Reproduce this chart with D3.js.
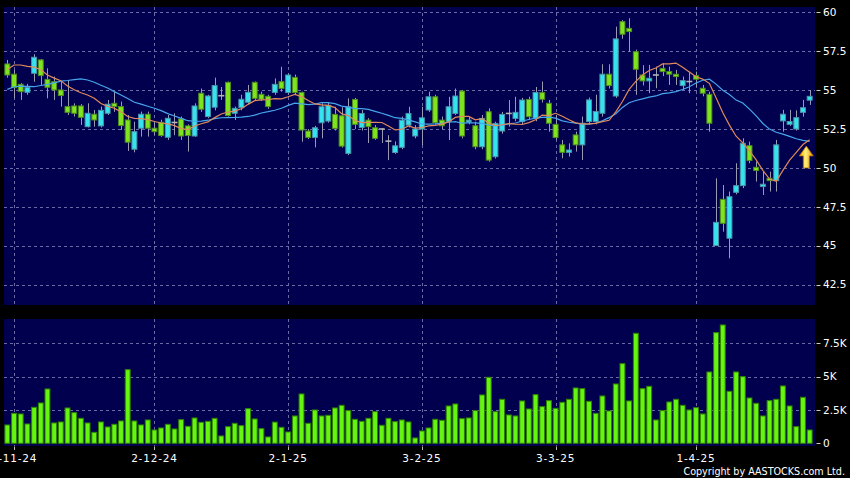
<!DOCTYPE html>
<html><head><meta charset="utf-8">
<script src="https://cdn.jsdelivr.net/npm/d3@7"></script>
<style>html,body{margin:0;padding:0;background:#000;}svg{display:block;}</style>
</head><body>
<svg id="chart" width="850" height="478"></svg>
<script>
// ---------------- DATA ----------------
const dates = [
"31-10-24",
"1-11-24","4-11-24","5-11-24","6-11-24","7-11-24","8-11-24","11-11-24","12-11-24","13-11-24","14-11-24","15-11-24","18-11-24","19-11-24","20-11-24","21-11-24","22-11-24","25-11-24","26-11-24","27-11-24","28-11-24","29-11-24",
"2-12-24","3-12-24","4-12-24","5-12-24","6-12-24","9-12-24","10-12-24","11-12-24","12-12-24","13-12-24","16-12-24","17-12-24","18-12-24","19-12-24","20-12-24","23-12-24","24-12-24","27-12-24","30-12-24","31-12-24",
"2-1-25","3-1-25","6-1-25","7-1-25","8-1-25","9-1-25","10-1-25","13-1-25","14-1-25","15-1-25","16-1-25","17-1-25","20-1-25","21-1-25","22-1-25","23-1-25","24-1-25","27-1-25","28-1-25","29-1-25",
"3-2-25","4-2-25","5-2-25","6-2-25","7-2-25","10-2-25","11-2-25","12-2-25","13-2-25","14-2-25","17-2-25","18-2-25","19-2-25","20-2-25","21-2-25","24-2-25","25-2-25","26-2-25","27-2-25","28-2-25",
"3-3-25","4-3-25","5-3-25","6-3-25","7-3-25","10-3-25","11-3-25","12-3-25","13-3-25","14-3-25","17-3-25","18-3-25","19-3-25","20-3-25","21-3-25","24-3-25","25-3-25","26-3-25","27-3-25","28-3-25","31-3-25",
"1-4-25","2-4-25","3-4-25","7-4-25","8-4-25","9-4-25","10-4-25","11-4-25","14-4-25","15-4-25","16-4-25","17-4-25","22-4-25","23-4-25","24-4-25","25-4-25","28-4-25","29-4-25"
];

const opens = [
56.68,56.02,55.37,54.86,56.08,56.94,55.69,55.54,55.01,53.94,
53.98,53.98,52.65,53.45,52.70,53.51,54.15,53.94,53.08,51.20,
52.55,53.45,52.55,52.93,51.97,52.92,53.15,52.70,52.05,54.80,
53.30,53.90,54.64,55.50,53.51,53.87,54.22,55.50,54.73,54.60,
54.85,55.54,54.85,55.82,54.85,52.37,51.96,52.90,53.01,53.44,
53.35,50.93,54.40,52.60,53.07,52.58,52.50,51.72,50.99,51.32,
52.75,52.05,52.50,53.72,54.57,53.07,52.97,53.50,54.94,52.95,
52.71,51.36,53.61,50.72,52.37,53.50,53.18,52.97,54.40,53.18,
54.84,54.15,52.80,51.48,51.00,52.12,51.48,52.98,52.98,53.51,
56.02,54.62,59.40,58.97,57.47,55.97,55.59,55.97,56.40,56.19,
56.02,55.29,55.55,55.93,55.12,54.73,45.01,47.98,45.48,48.43,
48.86,51.43,50.04,48.80,49.33,49.18,53.02,52.80,52.50,53.57,
54.35];
const highs = [
56.94,56.30,55.45,55.40,57.30,57.00,56.40,55.87,55.54,55.65,
54.15,54.10,54.15,53.72,53.94,54.37,54.90,54.26,53.40,52.97,
53.62,53.62,52.97,53.10,53.40,53.51,53.30,52.80,54.15,55.10,
54.70,55.80,55.20,55.55,53.94,54.70,55.33,55.55,54.90,54.70,
55.75,56.50,56.07,56.00,54.90,52.50,52.70,54.15,54.20,53.93,
53.90,54.47,54.50,53.72,53.20,52.75,52.55,52.10,51.70,53.30,
53.93,52.75,53.93,54.90,54.70,53.30,54.57,55.10,55.00,53.30,
52.97,53.40,53.83,52.97,53.60,54.36,54.57,54.50,54.57,55.20,
55.55,54.37,53.40,51.80,51.58,52.33,53.30,54.52,54.70,56.66,
56.66,59.08,59.50,59.62,57.60,56.60,56.62,56.51,56.72,56.51,
56.30,55.87,56.19,56.19,55.33,54.90,49.33,48.90,48.48,50.30,
51.90,51.69,50.40,49.76,49.76,51.80,53.73,53.73,53.70,54.37,
55.01];
const lows = [
55.80,54.47,54.37,54.70,55.54,55.33,54.47,54.37,53.94,53.40,
53.30,52.76,52.60,52.65,52.60,53.40,53.60,52.44,51.09,51.00,
52.01,52.01,52.12,52.00,51.80,52.10,51.80,51.05,52.00,53.60,
53.20,53.70,54.37,53.30,53.08,53.70,54.10,54.30,54.30,53.80,
54.70,54.90,54.70,54.70,51.68,51.85,51.32,51.90,52.90,52.40,
51.30,50.82,52.50,52.40,51.60,51.80,51.60,50.50,50.90,51.20,
52.60,51.90,51.47,53.60,52.80,52.50,51.79,53.40,51.90,52.80,
51.20,51.20,50.40,50.60,52.20,52.65,53.00,52.80,53.10,53.00,
54.20,52.33,51.80,50.62,50.73,51.05,50.51,52.80,52.80,53.30,
55.10,54.50,58.30,57.47,54.70,55.30,54.80,55.12,55.90,55.33,
55.33,55.01,54.80,55.20,54.60,52.33,45.00,45.90,44.19,48.30,
48.70,50.30,49.12,48.26,48.48,48.48,52.33,52.70,52.40,53.30,
54.05];
const closes = [
55.97,55.16,54.90,55.16,57.11,55.93,55.18,55.01,54.65,53.57,
53.51,53.25,53.51,53.08,53.70,54.09,53.94,52.72,51.65,52.33,
53.45,52.55,52.33,52.08,53.19,52.92,52.05,52.08,53.98,53.77,
54.62,55.29,54.64,53.36,53.83,54.41,54.86,54.47,54.41,53.94,
55.37,55.11,55.97,54.85,52.43,51.96,52.58,53.93,54.02,52.54,
51.40,53.93,52.80,53.50,52.65,51.90,52.50,51.72,51.42,53.07,
53.50,52.50,53.22,54.57,52.90,52.71,53.93,54.62,52.05,53.07,
51.36,53.18,50.50,52.86,53.44,53.50,53.57,54.36,53.29,54.85,
54.41,52.87,51.95,51.00,51.15,51.48,52.87,54.37,53.62,56.02,
55.29,58.29,58.59,58.76,56.34,55.59,55.76,55.97,56.19,56.02,
55.87,55.61,55.55,55.70,54.80,52.87,46.50,46.44,48.15,48.86,
51.58,50.47,49.83,48.95,49.18,51.48,53.45,52.98,53.23,53.87,
54.60];
// closes before the first visible day (needed by the moving averages)
const priorCloses = [51.76,54.10,55.56,57.51,54.33,53.78,53.01,52.45,52.77,52.51,
52.20,54.90,56.00,57.60,57.60,58.60,57.00,56.30,57.00];
const volumes = [
1375,2250,2200,1450,2700,3025,4075,1525,1600,2650,
2300,1875,1525,825,1600,1225,1425,1675,5525,1675,
1375,1750,1000,1150,1425,1075,1775,1275,1900,1575,
1650,1875,550,1250,1500,1325,2600,1825,1100,475,
1590,1200,850,2050,3700,1500,2500,2050,2100,2650,
2850,2450,1800,1650,1875,2375,1350,1875,1625,1750,
1600,400,925,1150,1800,1725,2800,2950,1850,1900,
2450,3625,4950,2375,3300,2125,2050,3175,2575,3650,
2750,3200,2625,3075,3300,4150,4100,3150,2250,3550,
2425,4450,5975,3175,8250,4100,4275,1750,2450,3100,
3300,2850,2500,2675,2200,5350,8300,8875,3900,5350,
5000,3400,3000,2050,3200,3300,4300,2800,1250,3450,
1000];
const priceTicks = [42.5,45,47.5,50,52.5,55,57.5,60];
const volumeTicks = [0,2500,5000,7500];
const volumeGridTicks = [2500,5000,7500];
const xTickLabels = ["1-11-24","2-12-24","2-1-25","3-2-25","3-3-25","1-4-25"];
const maShortPeriod = 10, maLongPeriod = 20;
const signalArrow = {date:"29-4-25", top:51.4, bottom:50.0};

// ---------------- LAYOUT ----------------
const W = 850, H = 478;
const P = {x0:4, x1:815, y0:7, y1:305};      // price panel
const V = {x0:4, x1:815, y0:319, y1:446};    // volume panel
const C = {bg:"#000", panel:"#00004f", grid:"#6a6aa6", up:"#35e3ef", upStroke:"#4b93a8",
  down:"#7fe41f", downStroke:"#4d8c1c", wick:"#9a9ab2", doji:"#b4b4b4",
  vol:"#66f511", volStroke:"#2e8200", maS:"#e0895a", maL:"#45a6ec", text:"#fff"};

const svg = d3.select("#chart");
svg.append("rect").attr("width",W).attr("height",H).attr("fill",C.bg);
const defs = svg.append("defs");
defs.append("clipPath").attr("id","clipP").append("rect")
  .attr("x",P.x0).attr("y",P.y0).attr("width",P.x1-P.x0).attr("height",P.y1-P.y0);
defs.append("clipPath").attr("id","clipV").append("rect")
  .attr("x",V.x0).attr("y",V.y0).attr("width",V.x1-V.x0).attr("height",V.y1-V.y0);

svg.append("rect").attr("x",P.x0).attr("y",P.y0).attr("width",P.x1-P.x0).attr("height",P.y1-P.y0).attr("fill",C.panel);
svg.append("rect").attr("x",V.x0).attr("y",V.y0).attr("width",V.x1-V.x0).attr("height",V.y1-V.y0).attr("fill",C.panel);

// ---------------- SCALES ----------------
const x = d3.scaleBand().domain(dates).range([4, 813]).paddingInner(0).paddingOuter(0);
const step = x.step();
const cx = d => x(d) + step/2;
const yP = d3.scaleLinear().domain([42.5,60]).range([284.6,12.3]);
const yV = d3.scaleLinear().domain([0,7500]).range([443.3,343.3]);

// ---------------- GRID ----------------
const gridP = svg.append("g").attr("stroke",C.grid).attr("stroke-width",1).attr("stroke-dasharray","3,3");
gridP.selectAll("line.h").data(priceTicks).join("line")
  .attr("x1",P.x0).attr("x2",P.x1)
  .attr("y1",d=>Math.round(yP(d))+0.5).attr("y2",d=>Math.round(yP(d))+0.5);
gridP.selectAll("line.v").data(xTickLabels).join("line")
  .attr("x1",d=>Math.round(cx(d))+0.5).attr("x2",d=>Math.round(cx(d))+0.5)
  .attr("y1",P.y0).attr("y2",P.y1);
const gridV = svg.append("g").attr("stroke",C.grid).attr("stroke-width",1).attr("stroke-dasharray","3,3");
gridV.selectAll("line.h").data(volumeGridTicks).join("line")
  .attr("x1",V.x0).attr("x2",V.x1)
  .attr("y1",d=>Math.round(yV(d))+0.5).attr("y2",d=>Math.round(yV(d))+0.5);
gridV.selectAll("line.v").data(xTickLabels).join("line")
  .attr("x1",d=>Math.round(cx(d))+0.5).attr("x2",d=>Math.round(cx(d))+0.5)
  .attr("y1",V.y0).attr("y2",V.y1);

// ---------------- CANDLES ----------------
const candles = dates.map((d,i)=>({d, o:opens[i], h:highs[i], l:lows[i], c:closes[i]}));
const gC = svg.append("g").attr("clip-path","url(#clipP)");
gC.selectAll("line.wick").data(candles).join("line").attr("class","wick")
  .attr("x1",d=>Math.round(cx(d.d))+0.5).attr("x2",d=>Math.round(cx(d.d))+0.5)
  .attr("y1",d=>yP(d.h)).attr("y2",d=>yP(d.l))
  .attr("stroke",C.wick).attr("stroke-width",1);
const bw = step*0.74;
gC.selectAll("rect.body").data(candles.filter(d=>d.o!==d.c)).join("rect").attr("class","body")
  .attr("x",d=>cx(d.d)-bw/2).attr("width",bw)
  .attr("y",d=>yP(Math.max(d.o,d.c)))
  .attr("height",d=>Math.max(1,Math.abs(yP(d.o)-yP(d.c))))
  .attr("fill",d=>d.c>d.o?C.up:C.down)
  .attr("stroke",d=>d.c>d.o?C.upStroke:C.downStroke).attr("stroke-width",1);
gC.selectAll("line.doji").data(candles.filter(d=>d.o===d.c)).join("line").attr("class","doji")
  .attr("x1",d=>cx(d.d)-bw/2-0.5).attr("x2",d=>cx(d.d)+bw/2+0.5)
  .attr("y1",d=>yP(d.c)).attr("y2",d=>yP(d.c))
  .attr("stroke",C.doji).attr("stroke-width",1.6);

// ---------------- MOVING AVERAGES ----------------
const allCloses = priorCloses.concat(closes);
const off = priorCloses.length;
function sma(n){
  return closes.map((c,i)=>{
    const end = i+off; return d3.mean(allCloses.slice(end-n+1,end+1));
  });
}
const maS = sma(maShortPeriod), maL = sma(maLongPeriod);
const line = d3.line().x((v,i)=>cx(dates[i])).y(v=>yP(v));
gC.append("path").attr("d",line(maL)).attr("fill","none").attr("stroke",C.maL).attr("stroke-width",1.2);
gC.append("path").attr("d",line(maS)).attr("fill","none").attr("stroke",C.maS).attr("stroke-width",1.2);

// ---------------- SIGNAL ARROW ----------------
const grad = defs.append("linearGradient").attr("id","arrowGrad").attr("x1","0").attr("x2","1").attr("y1","0").attr("y2","0");
grad.append("stop").attr("offset","0%").attr("stop-color","#f0a800");
grad.append("stop").attr("offset","45%").attr("stop-color","#fff07a");
grad.append("stop").attr("offset","100%").attr("stop-color","#e09000");
{
  const ax = x(signalArrow.date), yt = yP(signalArrow.top), yb = yP(signalArrow.bottom);
  const headH = (yb-yt)*0.45;
  const p = d3.path();
  p.moveTo(ax, yt); p.lineTo(ax+7, yt+headH); p.lineTo(ax+3, yt+headH); p.lineTo(ax+3, yb);
  p.lineTo(ax-3, yb); p.lineTo(ax-3, yt+headH); p.lineTo(ax-7, yt+headH); p.closePath();
  svg.append("path").attr("d",p.toString()).attr("fill","url(#arrowGrad)").attr("stroke","#b87000").attr("stroke-width",0.8);
}

// ---------------- VOLUME ----------------
const gV = svg.append("g").attr("clip-path","url(#clipV)");
gV.selectAll("rect").data(dates.map((d,i)=>({d,v:volumes[i]}))).join("rect")
  .attr("x",d=>x(d.d)+0.9).attr("width",step-1.8)
  .attr("y",d=>yV(d.v)).attr("height",d=>yV(0)-yV(d.v))
  .attr("fill",C.vol).attr("stroke",C.volStroke).attr("stroke-width",1);

// ---------------- AXES ----------------
const font = "'DejaVu Sans', Verdana, sans-serif";
const axP = svg.append("g");
axP.selectAll("line").data(priceTicks).join("line")
  .attr("x1",816.5).attr("x2",820.5).attr("y1",d=>Math.round(yP(d))+0.5).attr("y2",d=>Math.round(yP(d))+0.5)
  .attr("stroke","#ccc");
axP.selectAll("text").data(priceTicks).join("text")
  .attr("x",823).attr("y",d=>yP(d)).attr("dy","0.36em")
  .attr("fill",C.text).attr("font-family",font).attr("font-size",10.5)
  .text(d=>d);
const axV = svg.append("g");
axV.selectAll("line").data(volumeTicks).join("line")
  .attr("x1",816.5).attr("x2",820.5).attr("y1",d=>Math.round(yV(d))+0.5).attr("y2",d=>Math.round(yV(d))+0.5)
  .attr("stroke","#ccc");
axV.selectAll("text").data(volumeTicks).join("text")
  .attr("x",823).attr("y",d=>yV(d)).attr("dy","0.36em")
  .attr("fill",C.text).attr("font-family",font).attr("font-size",10.5)
  .text(d=>d===0?"0":(d/1000)+"K");
const axX = svg.append("g");
axX.selectAll("line").data(xTickLabels).join("line")
  .attr("x1",d=>Math.round(cx(d))+0.5).attr("x2",d=>Math.round(cx(d))+0.5)
  .attr("y1",446.5).attr("y2",450).attr("stroke","#bbb");
axX.selectAll("text").data(xTickLabels).join("text")
  .attr("x",d=>cx(d)).attr("y",462).attr("text-anchor","middle")
  .attr("fill",C.text).attr("font-family",font).attr("font-size",10.5).attr("letter-spacing",0.8)
  .text(d=>d);

svg.append("text").attr("x",845).attr("y",475).attr("text-anchor","end")
  .attr("fill",C.text).attr("font-family",font).attr("font-size",9.6)
  .text("Copyright by AASTOCKS.com Ltd.");
</script>
</body></html>
